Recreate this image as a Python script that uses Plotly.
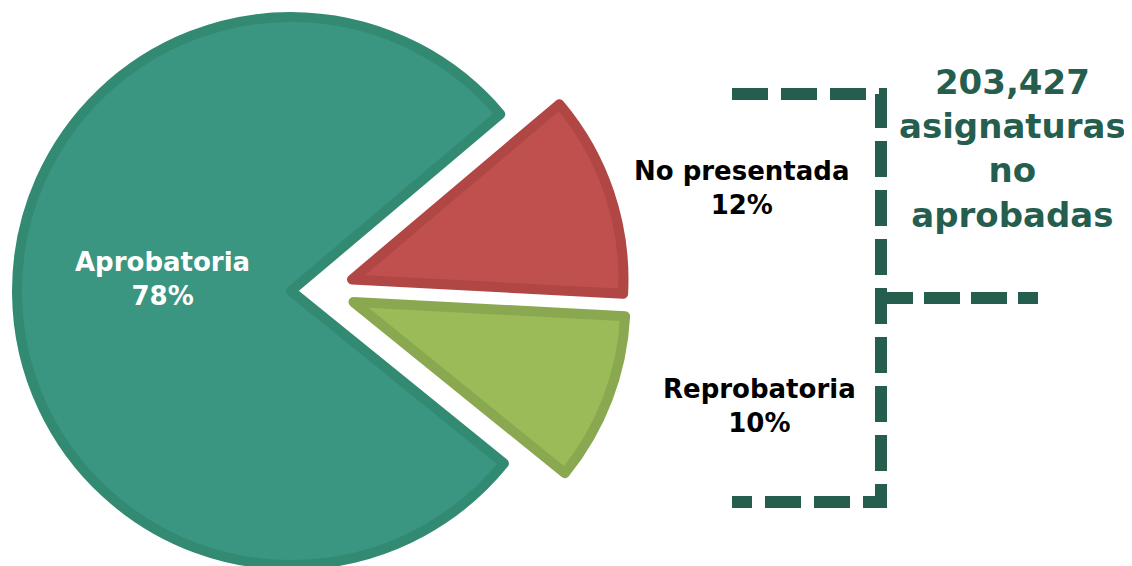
import plotly.graph_objects as go

# ---- data ----
labels = ["No presentada", "Reprobatoria", "Aprobatoria"]
values = [12, 10, 78]
percent_text = ["12%", "10%", "78%"]
headline_number = "203,427"
headline_text = ["asignaturas", "no", "aprobadas"]

fills = ["#c0504d", "#9bbb59", "#3a9680"]
borders = ["#b04744", "#8aa84f", "#338a73"]
TEXT_GREEN = "#255e4e"
FONT = "DejaVu Sans"

W, H = 1132, 590
OFF = 8  # page body margin: figure origin sits at window (8, 8)

# centre / radius of each exploded piece, in window pixels (layout only)
pieces = {
    "Aprobatoria": (291, 291, 274),
    "No presentada": (352, 279, 272),
    "Reprobatoria": (353.5, 302, 272),
}

def fx(x):
    return (x - OFF) / W

def fy(y):
    return 1 - (y - OFF) / H

fig = go.Figure()
for i, lab in enumerate(labels):
    cx, cy, r = pieces[lab]
    colors = ["rgba(0,0,0,0)"] * len(labels)
    lcolors = ["rgba(0,0,0,0)"] * len(labels)
    colors[i] = fills[i]
    lcolors[i] = borders[i]
    fig.add_trace(go.Pie(
        labels=labels,
        values=values,
        sort=False,
        direction="clockwise",
        rotation=49.8,
        textinfo="none",
        hoverinfo="skip",
        showlegend=False,
        marker=dict(colors=colors, line=dict(color=lcolors, width=10)),
        domain=dict(x=[max(0, fx(cx - r)), min(1, fx(cx + r))],
                    y=[max(0, fy(cy + r)), min(1, fy(cy - r))]),
    ))

annotations = []
label_pos = {
    "Aprobatoria": (162, 279, "white"),
    "No presentada": (742, 188, "black"),
    "Reprobatoria": (759, 406, "black"),
}
for lab, pct in zip(labels, percent_text):
    x, y, col = label_pos[lab]
    annotations.append(dict(
        x=fx(x), y=fy(y), xref="paper", yref="paper", showarrow=False,
        text=f"<b>{lab}</b><br><b>{pct}</b>",
        font=dict(family=FONT, size=26, color=col),
        align="center", xanchor="center", yanchor="middle",
    ))

annotations.append(dict(
    x=fx(1012), y=fy(148), xref="paper", yref="paper", showarrow=False,
    text="<br>".join(f"<b>{t}</b>" for t in [headline_number] + headline_text),
    font=dict(family=FONT, size=34, color=TEXT_GREEN),
    align="center", xanchor="center", yanchor="middle",
))

def path_px(cmds):
    return " ".join(f"{c} {fx(x):.5f},{fy(y):.5f}" for c, x, y in cmds)

bracket = path_px([("M", 732, 94), ("L", 881, 94), ("L", 881, 502), ("L", 732, 502)])
middle = path_px([("M", 877, 298), ("L", 1038, 298)])
shapes = [
    dict(type="path", xref="paper", yref="paper", path=bracket,
         line=dict(color=TEXT_GREEN, width=12, dash="36px,13px")),
    dict(type="path", xref="paper", yref="paper", path=middle,
         line=dict(color=TEXT_GREEN, width=12, dash="36px,11px")),
]

fig.update_layout(
    width=W, height=H,
    margin=dict(l=0, r=0, t=0, b=0),
    paper_bgcolor="white",
    plot_bgcolor="white",
    annotations=annotations,
    shapes=shapes,
)

fig.write_html("out.html")
